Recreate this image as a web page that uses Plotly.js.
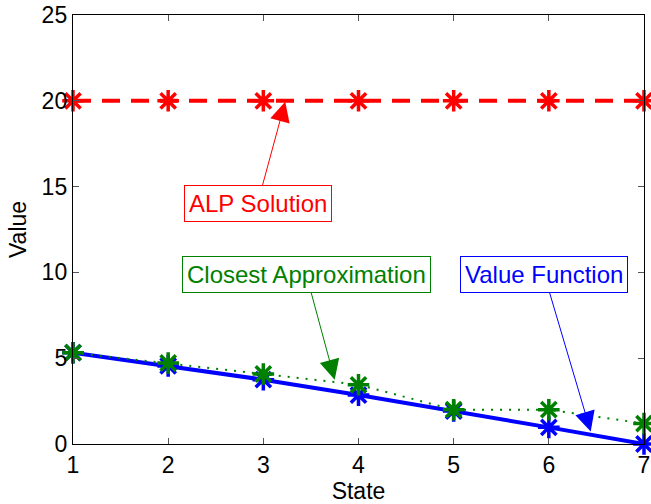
<!DOCTYPE html>
<html>
<head>
<meta charset="utf-8">
<script src="https://cdn.plot.ly/plotly-3.0.1.min.js"></script>
<style>html,body{margin:0;padding:0;background:#fff;}#chart{width:651px;height:504px;}</style>
</head>
<body>
<div id="chart"></div>
<script>
var states = [1, 2, 3, 4, 5, 6, 7];
var alpSolution = [20, 20, 20, 20, 20, 20, 20];
var closestApprox = [5.32, 4.72, 4.08, 3.45, 2.0, 2.0, 1.19];
var valueFunction = [5.32, 4.55, 3.75, 2.85, 1.92, 0.97, 0.0];
var xTicks = [1, 2, 3, 4, 5, 6, 7];
var yTicks = [0, 5, 10, 15, 20, 25];
var labels = ["ALP Solution", "Closest Approximation", "Value Function"];
var labelPos = [[2.94, 14.03], [3.45, 9.9], [5.95, 9.9]];
var arrowTips = [[3.23, 19.95], [3.75, 3.75], [6.44, 0.73]];
var colors = ["#ff0000", "#008000", "#0000ff"];

var FONT = "Liberation Sans, Arial, Helvetica, sans-serif";

var traces = [
  {x: states, y: valueFunction, mode: "lines+markers", cliponaxis: false,
   line: {color: colors[2], width: 4},
   marker: {symbol: "asterisk", size: 18, color: colors[2], line: {color: colors[2], width: 3.5}}},
  {x: states, y: closestApprox, mode: "lines+markers", cliponaxis: false,
   line: {color: colors[1], width: 2, dash: "2px,7px"},
   marker: {symbol: "asterisk", size: 18, color: colors[1], line: {color: colors[1], width: 3.5}}},
  {x: states, y: alpSolution, mode: "lines+markers", cliponaxis: false,
   line: {color: colors[0], width: 4, dash: "18px,11px"},
   marker: {symbol: "asterisk", size: 18, color: colors[0], line: {color: colors[0], width: 3.5}}}
];

var annotations = labels.map(function (t, i) {
  return {
    text: t, x: arrowTips[i][0], y: arrowTips[i][1], xref: "x", yref: "y",
    ax: labelPos[i][0], ay: labelPos[i][1], axref: "x", ayref: "y",
    showarrow: true, arrowhead: 2, arrowsize: 4, arrowwidth: 1, arrowcolor: colors[i],
    font: {family: FONT, size: 24, color: colors[i]},
    bordercolor: colors[i], borderwidth: 1, borderpad: 4, bgcolor: "#ffffff"
  };
});

var axisCommon = {
  showline: true, linecolor: "#000", linewidth: 1.2, mirror: "ticks",
  ticks: "inside", ticklen: 6, tickwidth: 1, tickcolor: "#555",
  showgrid: false, zeroline: false,
  tickfont: {family: FONT, size: 23, color: "#000"}
};

var layout = {
  width: 651, height: 504,
  margin: {l: 73, r: 7, t: 15, b: 60},
  paper_bgcolor: "#fff", plot_bgcolor: "#fff",
  showlegend: false,
  xaxis: Object.assign({}, axisCommon, {
    range: [1, 7], tickmode: "array", tickvals: xTicks,
    title: {text: "State", font: {family: FONT, size: 23, color: "#000"}, standoff: 2}
  }),
  yaxis: Object.assign({}, axisCommon, {
    range: [0, 25], tickmode: "array", tickvals: yTicks,
    title: {text: "Value", font: {family: FONT, size: 23, color: "#000"}, standoff: 8}
  }),
  annotations: annotations
};

Plotly.newPlot("chart", traces, layout, {displayModeBar: false, staticPlot: true});
</script>
</body>
</html>
